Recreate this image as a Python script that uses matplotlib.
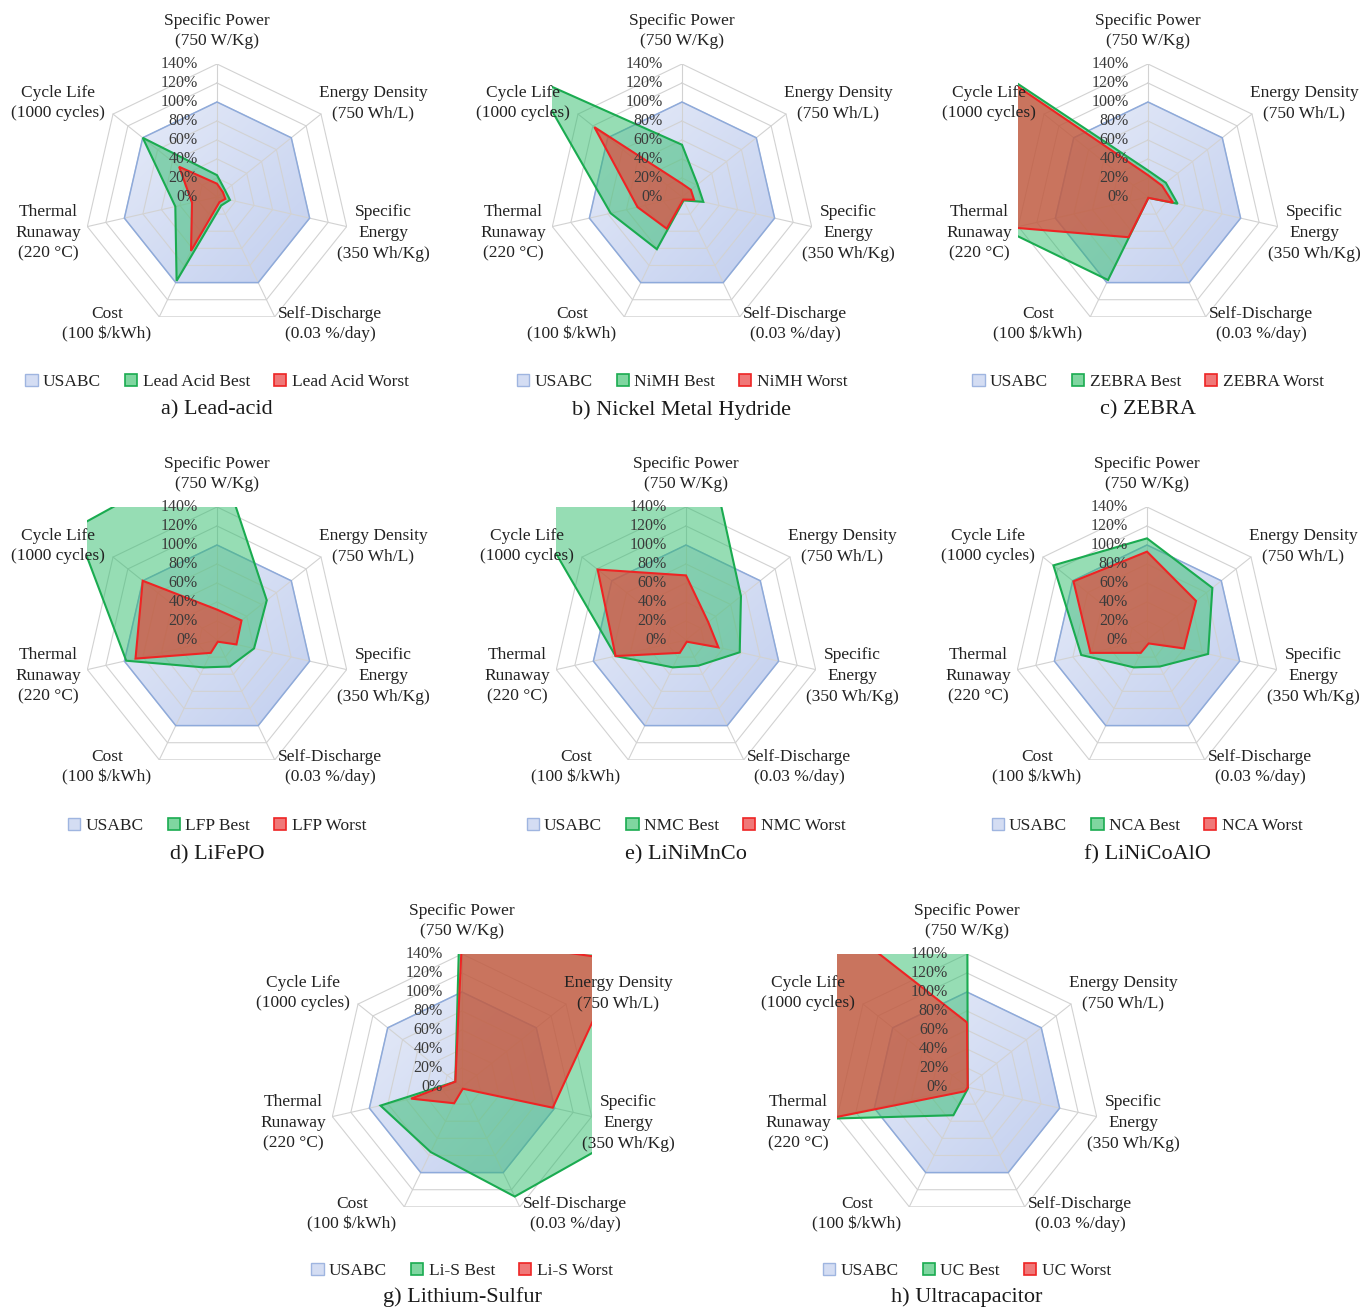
import numpy as np
import matplotlib

matplotlib.use("Agg")
import matplotlib.pyplot as plt
from matplotlib.colors import LinearSegmentedColormap
from matplotlib.patches import Patch, Polygon

plt.rcParams["font.family"] = ["Liberation Serif", "DejaVu Serif"]

# spokes, clockwise from the top
CATEGORY_LABELS = [
    "Specific Power\n(750 W/Kg)",
    "Energy Density\n(750 Wh/L)",
    "Specific\nEnergy\n(350 Wh/Kg)",
    "Self-Discharge\n(0.03 %/day)",
    "Cost\n(100 \\$/kWh)",
    "Thermal\nRunaway\n(220 \u00b0C)",
    "Cycle Life\n(1000 cycles)",
]
RING_VALUES = [0, 20, 40, 60, 80, 100, 120, 140]
RING_LABELS = ["0%", "20%", "40%", "60%", "80%", "100%", "120%", "140%"]

# values in % of the USABC target
USABC = [100, 100, 100, 100, 100, 100, 100]
LEAD_ACID_BEST = [23, 11, 14, 10, 98, 45, 100]
LEAD_ACID_WORST = [14, 8, 9, 6, 63, 27, 51]
NIMH_BEST = [55, 21, 23, 4, 61, 77, 200]
NIMH_WORST = [14, 12, 13, 3, 37, 48, 118]
ZEBRA_BEST = [28, 24, 32, 1, 97, 155, 270]
ZEBRA_WORST = [23, 19, 27, 1, 47, 145, 250]
LFP_BEST = [200, 67, 40, 31, 32, 98, 190]
LFP_WORST = [32, 33, 21, 2, 15, 88, 100]
NMC_BEST = [310, 74, 58, 30, 32, 76, 200]
NMC_WORST = [68, 30, 35, 2, 15, 76, 119]
NCA_BEST = [107, 88, 66, 31, 32, 71, 126]
NCA_WORST = [93, 66, 40, 4, 15, 61, 99]
LIS_BEST = [270, 250, 190, 128, 76, 88, 9]
LIS_WORST = [157, 214, 98, 2, 19, 55, 9]
UC_BEST = [300, 1, 1, 2, 33, 150, 10000]
UC_WORST = [68, 1, 1, 1, 5, 150, 5000]

PANEL_TITLES = [
    "a) Lead-acid", "b) Nickel Metal Hydride", "c) ZEBRA", "d) LiFePO",
    "e) LiNiMnCo", "f) LiNiCoAlO", "g) Lithium-Sulfur", "h) Ultracapacitor",
]
SHORT_NAMES = ["Lead Acid", "NiMH", "ZEBRA", "LFP", "NMC", "NCA", "Li-S", "UC"]
BEST_SERIES = [LEAD_ACID_BEST, NIMH_BEST, ZEBRA_BEST, LFP_BEST, NMC_BEST, NCA_BEST, LIS_BEST, UC_BEST]
WORST_SERIES = [LEAD_ACID_WORST, NIMH_WORST, ZEBRA_WORST, LFP_WORST, NMC_WORST, NCA_WORST, LIS_WORST, UC_WORST]

# layout (pixels in a 1366 x 1309 canvas)
W, H = 1366, 1309
R_PX = 133.0  # radius of the 140% ring
PX_PER_UNIT = R_PX / 140.0
CENTERS = [(217, 197), (682, 197), (1148, 197),
           (217, 640), (686, 640), (1147, 640),
           (462, 1087), (967, 1087)]
LEGEND_Y = [382, 382, 382, 826, 826, 826, 1271, 1271]
TITLE_Y = [410, 410, 410, 855, 855, 855, 1297, 1297]
LABEL_OFFSETS = [(0, -166), (156, -94), (166, 36), (113, 127), (-110, 127), (-169, 36), (-159, -94)]

GRID_COLOR = "#d2d2d2"
TEXT_COLOR = "#222222"
USABC_CMAP = LinearSegmentedColormap.from_list("usabc", ["#e6ebf8", "#c2cfef"])
USABC_EDGE = "#8eaadb"
BEST_FACE, BEST_EDGE = "#2ebd6b", "#1aab50"
WORST_FACE, WORST_EDGE = "#e0483a", "#ee2424"

ANGLES = np.deg2rad(90 - np.arange(7) * 360 / 7)


def to_xy(vals):
    r = np.asarray(vals, dtype=float)
    return r * np.cos(ANGLES), r * np.sin(ANGLES)


def draw_usabc(ax):
    ux, uy = to_xy(USABC)
    # light gradient fill, darker towards the lower right
    gx, gy = np.meshgrid(np.linspace(-1, 1, 200), np.linspace(1, -1, 200))
    grad = (gx - gy) / 2.0
    img = ax.imshow(grad, cmap=USABC_CMAP, vmin=-1, vmax=1, origin="upper",
                    extent=(ux.min(), ux.max(), uy.min(), uy.max()),
                    interpolation="bilinear", zorder=0.5, aspect="auto")
    clip = Polygon(np.column_stack([ux, uy]), closed=True, transform=ax.transData)
    img.set_clip_path(clip)
    ax.fill(ux, uy, facecolor="none", edgecolor=USABC_EDGE, lw=1.1, zorder=2.1)


def draw_panel(fig, idx):
    cx, cy = CENTERS[idx]
    xmax = 140 * abs(np.cos(ANGLES[2]))
    ymin = 140 * np.sin(ANGLES[3])
    w_px = 2 * xmax * PX_PER_UNIT
    h_px = (140 - ymin) * PX_PER_UNIT
    left = (cx - xmax * PX_PER_UNIT) / W
    bottom = 1 - (cy - ymin * PX_PER_UNIT) / H
    ax = fig.add_axes([left, bottom, w_px / W, h_px / H])
    ax.set_xlim(-xmax, xmax)
    ax.set_ylim(ymin, 140)
    ax.axis("off")

    draw_usabc(ax)

    # grid: heptagon rings and spokes
    for ring in RING_VALUES[1:]:
        gx, gy = to_xy([ring] * 7)
        ax.plot(np.append(gx, gx[0]), np.append(gy, gy[0]), color=GRID_COLOR, lw=0.8, zorder=1)
    sx, sy = to_xy([140] * 7)
    for x, y in zip(sx, sy):
        ax.plot([0, x], [0, y], color=GRID_COLOR, lw=0.8, zorder=1)

    bx, by = to_xy(BEST_SERIES[idx])
    ax.fill(bx, by, facecolor=BEST_FACE, alpha=0.5, edgecolor="none", zorder=3)
    ax.fill(bx, by, facecolor="none", edgecolor=BEST_EDGE, lw=1.5, zorder=3.1)

    wx, wy = to_xy(WORST_SERIES[idx])
    ax.fill(wx, wy, facecolor=WORST_FACE, alpha=0.7, edgecolor="none", zorder=4)
    ax.fill(wx, wy, facecolor="none", edgecolor=WORST_EDGE, lw=1.5, zorder=4.1)

    for val, lab in zip(RING_VALUES, RING_LABELS):
        ax.text(-20, val, lab, ha="right", va="center", fontsize=11.5,
                color="#3a3a3a", zorder=6, clip_on=False)

    for (dx, dy), lab in zip(LABEL_OFFSETS, CATEGORY_LABELS):
        ax.text(dx / PX_PER_UNIT, -dy / PX_PER_UNIT, lab, ha="center", va="center",
                fontsize=12.5, color=TEXT_COLOR, zorder=6, clip_on=False, linespacing=1.4)

    handles = [
        Patch(facecolor="#d4ddf3", edgecolor="#9fb5e0", lw=1.0),
        Patch(facecolor="#7fd6a0", edgecolor=BEST_EDGE, lw=1.2),
        Patch(facecolor="#f07878", edgecolor=WORST_EDGE, lw=1.2),
    ]
    names = ["USABC", f"{SHORT_NAMES[idx]} Best", f"{SHORT_NAMES[idx]} Worst"]
    ax.legend(handles, names, loc="center", bbox_to_anchor=(cx / W, 1 - LEGEND_Y[idx] / H),
              bbox_transform=fig.transFigure, ncol=3, frameon=False, fontsize=12.5,
              handlelength=0.7, handleheight=0.7, handletextpad=0.3, columnspacing=1.4,
              labelcolor=TEXT_COLOR)

    fig.text(cx / W, 1 - TITLE_Y[idx] / H, PANEL_TITLES[idx], ha="center", va="center",
             fontsize=16, color="#1a1a1a")


def main() -> None:
    fig = plt.figure(figsize=(W / 100, H / 100), dpi=100)
    fig.patch.set_facecolor("white")
    for idx in range(len(PANEL_TITLES)):
        draw_panel(fig, idx)
    fig.savefig("out.png", dpi=100, facecolor="white")
    plt.close(fig)


if __name__ == "__main__":
    main()
